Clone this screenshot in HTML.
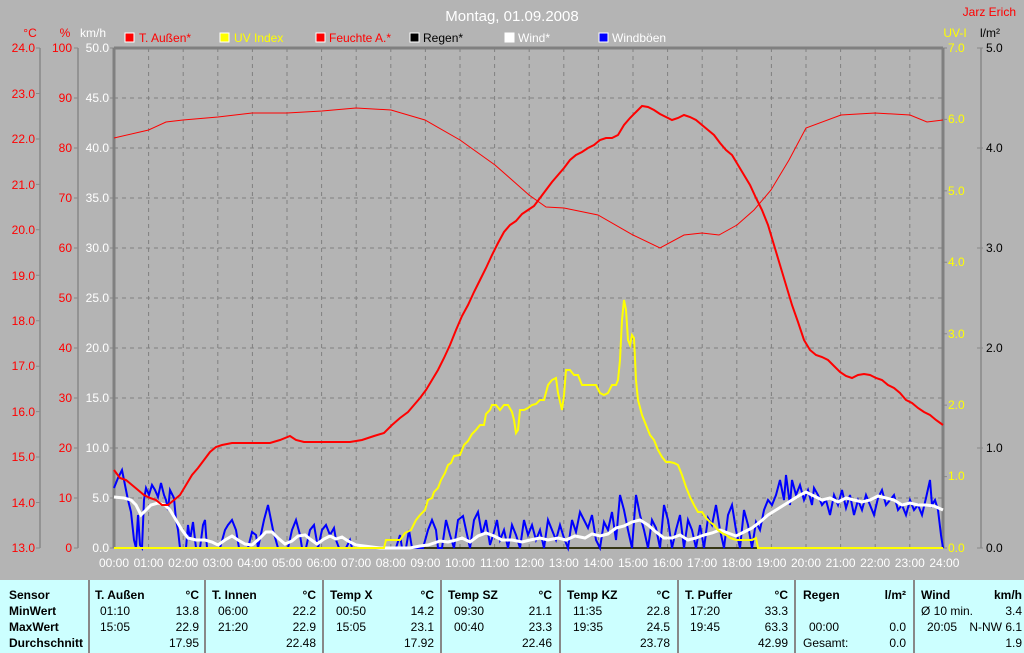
<!DOCTYPE html>
<html><head><meta charset="utf-8"><style>
body{margin:0;width:1024px;height:653px;overflow:hidden;background:#b4b4b4;font-family:"Liberation Sans",sans-serif}
svg{position:absolute;left:0;top:0}
#tbl{position:absolute;left:0;top:580px;width:1024px;height:73px;background:#ccffff;font-size:12px;color:#000}
.c{position:absolute;top:0;height:73px;border-left:2px solid #888}
.t{position:absolute;white-space:nowrap}
.b{font-weight:bold}
</style></head><body>
<svg width="1024" height="580" font-family="Liberation Sans, sans-serif">
<text x="512" y="21" fill="#fff" font-size="15" text-anchor="middle">Montag, 01.09.2008</text>
<text x="1016" y="16" fill="#f00" font-size="12" text-anchor="end">Jarz Erich</text>
<g font-size="12">
<text x="30" y="37" fill="#f00" text-anchor="middle">°C</text>
<text x="65" y="37" fill="#f00" text-anchor="middle">%</text>
<text x="93" y="37" fill="#fff" text-anchor="middle">km/h</text>
<text x="955" y="37" fill="#ff0" text-anchor="middle">UV-I</text>
<text x="990" y="37" fill="#000" text-anchor="middle">l/m²</text>
<rect x="125" y="33" width="9" height="9" fill="#f00" stroke="#fff"/><text x="139" y="42" fill="#f00">T. Außen*</text>
<rect x="220" y="33" width="9" height="9" fill="#ff0" stroke="#fff"/><text x="234" y="42" fill="#ff0">UV Index</text>
<rect x="316" y="33" width="9" height="9" fill="#f00" stroke="#fff"/><text x="329" y="42" fill="#f00">Feuchte A.*</text>
<rect x="410" y="33" width="9" height="9" fill="#000" stroke="#fff"/><text x="423" y="42" fill="#000">Regen*</text>
<rect x="505" y="33" width="9" height="9" fill="#fff" stroke="#fff"/><text x="518" y="42" fill="#fff">Wind*</text>
<rect x="599" y="33" width="9" height="9" fill="#00f" stroke="#fff"/><text x="612" y="42" fill="#fff">Windböen</text>
</g>
<g stroke="#888" stroke-width="1.5" fill="none">
<line x1="40" y1="48" x2="40" y2="548"/><line x1="78" y1="48" x2="78" y2="548"/><line x1="981" y1="48" x2="981" y2="548"/>
</g>
<g stroke="#808080" stroke-dasharray="4,4" stroke-width="1">
<path d="M148.6 48V548M183.2 48V548M217.8 48V548M252.4 48V548M287 48V548M321.6 48V548M356.2 48V548M390.8 48V548M425.4 48V548M460 48V548M494.6 48V548M529.2 48V548M563.8 48V548M598.4 48V548M633 48V548M667.6 48V548M702.2 48V548M736.8 48V548M771.4 48V548M806 48V548M840.6 48V548M875.2 48V548M909.8 48V548"/>
<path d="M114 98H943M114 148H943M114 198H943M114 248H943M114 298H943M114 348H943M114 398H943M114 448H943M114 498H943"/>
</g>
<g font-size="12" fill="#f00" text-anchor="end">
<text x="35" y="52">24.0</text><text x="35" y="98">23.0</text><text x="35" y="143">22.0</text><text x="35" y="189">21.0</text><text x="35" y="234">20.0</text><text x="35" y="280">19.0</text><text x="35" y="325">18.0</text><text x="35" y="370">17.0</text><text x="35" y="416">16.0</text><text x="35" y="461">15.0</text><text x="35" y="507">14.0</text><text x="35" y="552">13.0</text>
<text x="72" y="52">100</text><text x="72" y="102">90</text><text x="72" y="152">80</text><text x="72" y="202">70</text><text x="72" y="252">60</text><text x="72" y="302">50</text><text x="72" y="352">40</text><text x="72" y="402">30</text><text x="72" y="452">20</text><text x="72" y="502">10</text><text x="72" y="552">0</text>
</g>
<g font-size="12" fill="#fff" text-anchor="end">
<text x="109" y="52">50.0</text><text x="109" y="102">45.0</text><text x="109" y="152">40.0</text><text x="109" y="202">35.0</text><text x="109" y="252">30.0</text><text x="109" y="302">25.0</text><text x="109" y="352">20.0</text><text x="109" y="402">15.0</text><text x="109" y="452">10.0</text><text x="109" y="502">5.0</text><text x="109" y="552">0.0</text>
</g>
<g font-size="12" fill="#ff0">
<text x="948" y="52">7.0</text><text x="948" y="123">6.0</text><text x="948" y="195">5.0</text><text x="948" y="266">4.0</text><text x="948" y="338">3.0</text><text x="948" y="409">2.0</text><text x="948" y="480">1.0</text><text x="948" y="552">0.0</text>
</g>
<g font-size="12" fill="#000">
<text x="986" y="52">5.0</text><text x="986" y="152">4.0</text><text x="986" y="252">3.0</text><text x="986" y="352">2.0</text><text x="986" y="452">1.0</text><text x="986" y="552">0.0</text>
</g>
<g stroke="#888" stroke-width="1">
<path d="M36 48H40M36 93.5H40M36 139H40M36 184.4H40M36 229.8H40M36 275.3H40M36 320.7H40M36 366.2H40M36 411.6H40M36 457H40M36 502.5H40M36 548H40"/>
<path d="M74 48H78M74 98H78M74 148H78M74 198H78M74 248H78M74 298H78M74 348H78M74 398H78M74 448H78M74 498H78M74 548H78"/>
<path d="M110 48H114M110 98H114M110 148H114M110 198H114M110 248H114M110 298H114M110 348H114M110 398H114M110 448H114M110 498H114M110 548H114"/>
<path d="M943 48H947M943 119.4H947M943 190.9H947M943 262.3H947M943 333.7H947M943 405.1H947M943 476.6H947M943 548H947"/>
<path d="M977 48H983M977 148H983M977 248H983M977 348H983M977 448H983M977 548H983"/>
</g>
<g font-size="12" fill="#fff" text-anchor="middle">
<text x="114" y="567">00:00</text><text x="148.6" y="567">01:00</text><text x="183.2" y="567">02:00</text><text x="217.8" y="567">03:00</text><text x="252.4" y="567">04:00</text><text x="287" y="567">05:00</text><text x="321.6" y="567">06:00</text><text x="356.2" y="567">07:00</text><text x="390.8" y="567">08:00</text><text x="425.4" y="567">09:00</text><text x="460" y="567">10:00</text><text x="494.6" y="567">11:00</text><text x="529.2" y="567">12:00</text><text x="563.8" y="567">13:00</text><text x="598.4" y="567">14:00</text><text x="633" y="567">15:00</text><text x="667.6" y="567">16:00</text><text x="702.2" y="567">17:00</text><text x="736.8" y="567">18:00</text><text x="771.4" y="567">19:00</text><text x="806" y="567">20:00</text><text x="840.6" y="567">21:00</text><text x="875.2" y="567">22:00</text><text x="909.8" y="567">23:00</text><text x="944.4" y="567">24:00</text>
</g>
<path d="M114 48V548M943 48V548M114 48H943" stroke="#808080" stroke-width="3" fill="none"/>
<line x1="114" y1="548" x2="943" y2="548" stroke="#ff0" stroke-width="1.5"/>
<line x1="390" y1="548" x2="943" y2="548" stroke="#000" stroke-width="1.5"/>
<polyline fill="none" stroke="#f00" stroke-width="1" points="114,138 148.6,130 166,122 183,120 218,117 252,113 287,113 322,111 356,108 391,110 425,120 460,140 495,165 529,195 546,207 564,208 598,215 633,235 660,248 684,235 702,233 719,235 737,225 754,210 771,190 789,160 806,128 841,115 875,113 910,115 927,122 943,120"/>
<polyline fill="none" stroke="#00f" stroke-width="2" points="114,488 118,478 122,470 125,485 128,500 131,512 134,540 136,548 138,515 140,545 142,548 144,500 146,488 149,495 152,485 155,490 158,497 161,483 164,495 166,500 168,510 170,490 174,498 176,520 178,530 180,548 183,548 186,548 188,525 190,540 193,522 196,548 200,548 203,525 205,520 207,548 216,548 220,548 225,530 228,525 232,520 236,530 239,548 248,548 252,532 256,535 258,548 264,520 268,505 271,520 273,530 278,548 288,548 292,530 296,520 300,535 302,548 306,548 310,530 314,525 318,548 322,530 326,525 330,535 334,528 336,540 339,548 346,548 350,540 352,548 396,548 400,535 402,548 406,548 409,530 412,548 423,548 428,530 432,520 436,530 438,548 442,548 446,520 450,535 454,548 458,520 463,516 466,530 470,548 474,520 478,512 482,535 486,520 490,545 494,532 497,520 500,540 504,530 508,548 512,525 516,535 520,548 524,520 528,535 532,525 536,540 540,530 544,548 548,520 552,530 556,540 560,525 564,538 568,548 572,520 576,532 580,512 584,520 588,528 592,515 596,540 600,548 604,522 608,530 612,512 616,540 620,495 624,510 628,530 632,548 636,495 640,515 644,530 648,548 652,520 656,528 660,548 664,505 668,520 672,548 676,530 680,515 684,548 688,520 692,530 696,548 700,525 704,548 708,518 712,525 716,505 720,530 724,548 728,515 732,505 736,530 740,548 744,510 748,525 752,548 756,522 760,530 764,510 768,500 772,505 776,495 780,480 784,500 786,475 790,505 792,480 796,495 800,485 804,500 808,490 812,505 814,488 818,495 822,505 826,500 830,515 834,495 838,505 842,490 846,508 850,495 854,515 858,500 862,510 866,495 870,505 874,515 878,498 882,490 886,505 890,500 894,495 898,510 902,505 906,515 910,500 914,510 918,505 922,515 926,498 930,480 932,505 935,500 938,510 941,535 943,548"/>
<polyline fill="none" stroke="#fff" stroke-width="3" points="114,497 124,498 131,500 136,505 141,515 146,510 151,505 158,503 165,505 170,510 176,520 182,530 188,538 196,540 205,540 212,542 218,545 225,540 232,536 238,540 245,544 252,545 260,538 266,532 272,532 278,538 285,544 292,541 298,536 305,535 310,539 317,544 324,539 330,536 336,539 342,537 348,541 356,545 364,546 372,547 380,548 390,548 410,548 420,546 428,545 440,541 448,542 456,540 462,538 470,542 478,536 486,533 494,536 502,540 512,540 522,542 530,540 540,538 548,540 558,538 566,540 575,536 585,538 592,534 600,536 608,534 616,528 624,526 632,522 640,520 648,525 656,532 664,538 672,538 680,535 688,540 696,538 704,535 712,533 720,530 728,533 736,536 744,532 752,528 760,522 768,515 776,510 784,505 792,500 800,495 806,492 814,496 822,500 830,498 838,502 846,498 854,500 862,502 870,500 878,496 886,498 894,500 902,505 910,503 918,505 926,505 934,506 943,510"/>
<polyline fill="none" stroke="#ff0" stroke-width="2" points="114,548 384,548 386,540 400,540 405,533 411,530 416,520 420,515 425,510 428,500 432,498 434,492 438,488 441,480 445,473 448,465 451,463 454,456 460,455 464,445 468,441 472,434 476,430 480,425 484,425 486,414 490,410 492,405 496,405 500,410 504,405 508,405 512,412 514,420 516,433 518,430 520,410 524,410 528,408 532,405 536,404 540,400 544,400 548,385 552,380 556,378 558,393 562,410 564,395 566,370 570,370 574,375 578,375 582,385 590,385 596,385 600,393 604,395 608,393 612,385 616,385 618,380 620,360 622,320 624,300 626,310 628,340 630,345 632,335 634,338 636,380 638,400 642,415 646,425 650,435 654,440 658,450 662,457 666,462 670,462 674,463 678,465 682,475 686,487 690,497 694,505 698,512 702,512 706,518 710,522 714,525 718,530 722,533 726,535 730,538 736,540 744,540 752,540 756,538 758,548 943,548"/>
<polyline fill="none" stroke="#f00" stroke-width="2" points="114,470 120,478 126,480 132,485 138,490 144,495 150,498 156,500 162,505 168,505 174,500 180,495 186,485 192,475 198,468 204,460 210,452 216,447 222,445 232,443 244,443 256,443 270,443 280,440 290,436 296,440 304,442 316,442 332,442 350,442 362,440 374,436 384,433 392,425 400,418 408,412 414,405 420,398 426,390 432,380 438,370 444,358 450,345 456,330 462,316 468,305 474,292 480,280 486,268 492,255 498,243 504,232 510,225 516,221 522,214 528,210 534,206 540,198 546,190 552,182 558,175 564,168 570,160 576,155 582,152 588,148 594,145 600,140 606,138 612,138 618,135 624,125 630,118 636,112 642,106 648,107 654,110 660,114 666,117 672,120 678,118 684,115 690,117 696,120 702,125 708,130 714,135 720,143 726,150 732,155 738,165 744,175 750,185 756,198 762,210 768,225 774,245 780,265 786,285 792,305 798,322 804,340 810,350 816,355 822,357 828,360 834,366 840,372 846,376 852,378 858,375 864,374 870,375 876,378 882,380 888,385 894,388 900,393 906,400 912,403 918,408 924,412 930,415 936,420 943,425"/>
</svg>
<div id="tbl">
<div class="c" style="left:88px"></div><div class="c" style="left:204px"></div><div class="c" style="left:322px"></div><div class="c" style="left:440px"></div><div class="c" style="left:559px"></div><div class="c" style="left:677px"></div><div class="c" style="left:794px"></div><div class="c" style="left:913px"></div>
<div class="t b" style="left:9px;top:8px">Sensor</div><div class="t b" style="left:9px;top:24px">MinWert</div><div class="t b" style="left:9px;top:40px">MaxWert</div><div class="t b" style="left:9px;top:56px">Durchschnitt</div>

<div class="t b" style="left:95px;top:8px">T. Außen</div><div class="t b" style="right:825px;top:8px">°C</div>
<div class="t" style="left:100px;top:24px">01:10</div><div class="t" style="right:825px;top:24px">13.8</div>
<div class="t" style="left:100px;top:40px">15:05</div><div class="t" style="right:825px;top:40px">22.9</div>
<div class="t" style="right:825px;top:56px">17.95</div>

<div class="t b" style="left:212px;top:8px">T. Innen</div><div class="t b" style="right:708px;top:8px">°C</div>
<div class="t" style="left:218px;top:24px">06:00</div><div class="t" style="right:708px;top:24px">22.2</div>
<div class="t" style="left:218px;top:40px">21:20</div><div class="t" style="right:708px;top:40px">22.9</div>
<div class="t" style="right:708px;top:56px">22.48</div>

<div class="t b" style="left:330px;top:8px">Temp X</div><div class="t b" style="right:590px;top:8px">°C</div>
<div class="t" style="left:336px;top:24px">00:50</div><div class="t" style="right:590px;top:24px">14.2</div>
<div class="t" style="left:336px;top:40px">15:05</div><div class="t" style="right:590px;top:40px">23.1</div>
<div class="t" style="right:590px;top:56px">17.92</div>

<div class="t b" style="left:448px;top:8px">Temp SZ</div><div class="t b" style="right:472px;top:8px">°C</div>
<div class="t" style="left:454px;top:24px">09:30</div><div class="t" style="right:472px;top:24px">21.1</div>
<div class="t" style="left:454px;top:40px">00:40</div><div class="t" style="right:472px;top:40px">23.3</div>
<div class="t" style="right:472px;top:56px">22.46</div>

<div class="t b" style="left:567px;top:8px">Temp KZ</div><div class="t b" style="right:354px;top:8px">°C</div>
<div class="t" style="left:573px;top:24px">11:35</div><div class="t" style="right:354px;top:24px">22.8</div>
<div class="t" style="left:573px;top:40px">19:35</div><div class="t" style="right:354px;top:40px">24.5</div>
<div class="t" style="right:354px;top:56px">23.78</div>

<div class="t b" style="left:685px;top:8px">T. Puffer</div><div class="t b" style="right:236px;top:8px">°C</div>
<div class="t" style="left:690px;top:24px">17:20</div><div class="t" style="right:236px;top:24px">33.3</div>
<div class="t" style="left:690px;top:40px">19:45</div><div class="t" style="right:236px;top:40px">63.3</div>
<div class="t" style="right:236px;top:56px">42.99</div>

<div class="t b" style="left:803px;top:8px">Regen</div><div class="t b" style="right:118px;top:8px">l/m²</div>
<div class="t" style="left:809px;top:40px">00:00</div><div class="t" style="right:118px;top:40px">0.0</div>
<div class="t" style="left:803px;top:56px">Gesamt:</div><div class="t" style="right:118px;top:56px">0.0</div>

<div class="t b" style="left:921px;top:8px">Wind</div><div class="t b" style="right:2px;top:8px">km/h</div>
<div class="t" style="left:921px;top:24px">Ø 10 min.</div><div class="t" style="right:2px;top:24px">3.4</div>
<div class="t" style="left:927px;top:40px">20:05</div><div class="t" style="right:2px;top:40px">N-NW 6.1</div>
<div class="t" style="right:2px;top:56px">1.9</div>
</div>
</body></html>
